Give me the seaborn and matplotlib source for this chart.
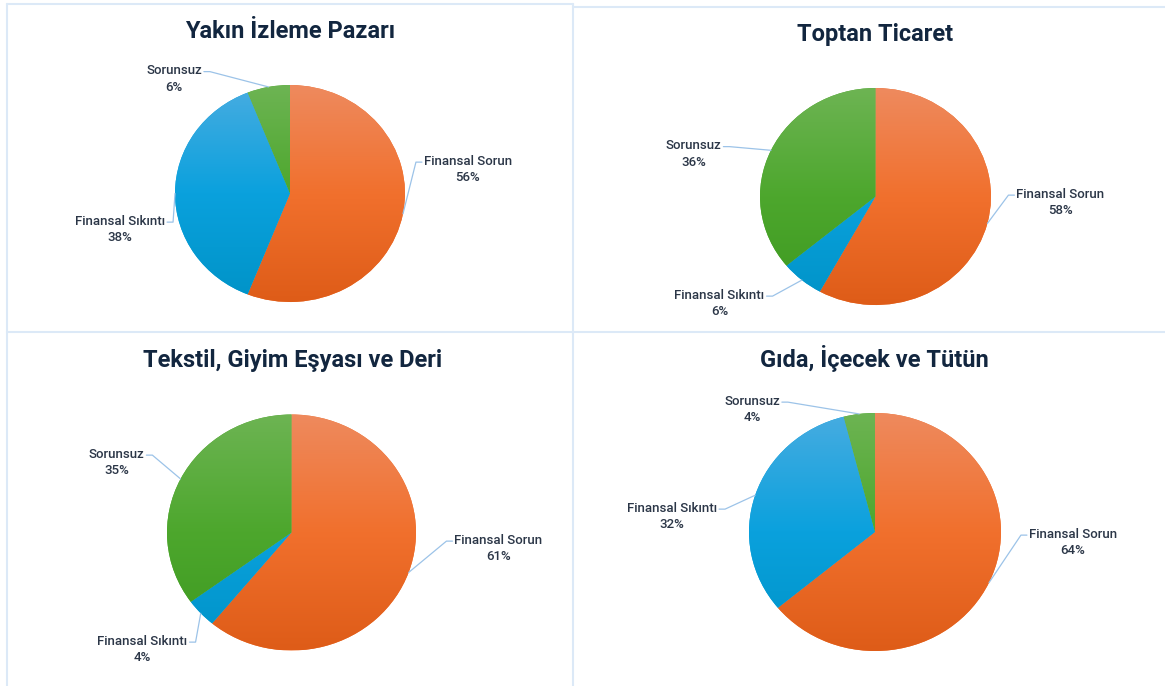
import numpy as np
import matplotlib
matplotlib.use("Agg")
import matplotlib.pyplot as plt
import seaborn as sns
from matplotlib.lines import Line2D

# ---- data -------------------------------------------------------------
categories = ["Finansal Sorun", "Finansal Sıkıntı", "Sorunsuz"]
titles = [
    "Yakın İzleme Pazarı",
    "Toptan Ticaret",
    "Tekstil, Giyim Eşyası ve Deri",
    "Gıda, İçecek ve Tütün",
]
yakin_izleme = [56, 38, 6]
toptan_ticaret = [58, 6, 36]
tekstil_giyim = [61, 4, 35]
gida_icecek = [64, 32, 4]
shares = [yakin_izleme, toptan_ticaret, tekstil_giyim, gida_icecek]

# ---- style ------------------------------------------------------------
W, H = 1165, 686
sns.set_theme(style="white")
plt.rcParams["font.family"] = ["Roboto", "DejaVu Sans"]

# vertical gradient per slice colour: top, middle, bottom
gradient_stops = {
    "Finansal Sorun": ["#EE8A5E", "#F1702D", "#DE5C18"],
    "Finansal Sıkıntı": ["#48ACE1", "#0AA1DD", "#0093C7"],
    "Sorunsuz": ["#6DB453", "#4DA72D", "#3D9920"],
}
cmaps = {k: sns.blend_palette(v, as_cmap=True) for k, v in gradient_stops.items()}

TITLE_COLOR = "#12263F"
LABEL_COLOR = "#2B3647"
LEADER_COLOR = "#9CC3E8"
BORDER_COLOR = "#DCE9F7"

# panel geometry in pixels (x from left, y from top); label offsets from pie centre
layouts = [
    dict(center=(290, 193.5), radii=(115, 108.5), title=(290, 32),
         labels=[(178, -24), (-170, 36), (-116, -114.5)]),
    dict(center=(875.5, 196.5), radii=(115.5, 108.5), title=(875, 35),
         labels=[(185, 6), (-156, 107), (-182, -42.5)]),
    dict(center=(291.5, 532.5), radii=(124.5, 118), title=(293, 361),
         labels=[(207, 16), (-149, 117), (-175, -70)]),
    dict(center=(875, 532), radii=(126, 119), title=(874, 359),
         labels=[(198, 10.5), (-203, -15.5), (-123, -122.5)]),
]

fig = plt.figure(figsize=(W / 100, H / 100), dpi=100)
fig.patch.set_facecolor("white")

# overlay axes in pixel coordinates for borders, titles, labels and leaders
ov = fig.add_axes([0, 0, 1, 1], zorder=5)
ov.set_xlim(0, W)
ov.set_ylim(H, 0)
ov.axis("off")

# panel frames
frame_lines = [
    ((7, 573), (4, 4)),
    ((573, W), (7, 7)),
    ((7, 7), (4, H)),
    ((573, 573), (4, H)),
    ((7, W), (332, 332)),
]
for xs, ys in frame_lines:
    ov.add_line(Line2D(xs, ys, color=BORDER_COLOR, lw=1.5, zorder=0))

m = 1.03
label_jobs = []
for title, values, lay in zip(titles, shares, layouts):
    cx, cy = lay["center"]
    rx, ry = lay["radii"]
    rect = [(cx - rx * m) / W, 1 - (cy + ry * m) / H, 2 * rx * m / W, 2 * ry * m / H]
    ax = fig.add_axes(rect, zorder=2)
    wedges, _ = ax.pie(values, startangle=90, counterclock=False, radius=1,
                       center=(0, 0), wedgeprops=dict(linewidth=0))
    grad = np.linspace(0, 1, 256).reshape(-1, 1)
    for cat, w in zip(categories, wedges):
        w.set_facecolor(gradient_stops[cat][1])
        im = ax.imshow(grad, cmap=cmaps[cat], extent=(-1, 1, -1, 1),
                       origin="upper", aspect="auto", interpolation="bilinear",
                       zorder=3)
        im.set_clip_path(w)
    ax.set_aspect("auto")
    ax.set_xlim(-m, m)
    ax.set_ylim(-m, m)
    ax.axis("off")

    ov.text(lay["title"][0], lay["title"][1], title, ha="center", va="center",
            fontsize=17, fontweight="bold", color=TITLE_COLOR)

    for cat, v, w, (dx, dy) in zip(categories, values, wedges, lay["labels"]):
        mid = np.deg2rad((w.theta1 + w.theta2) / 2)
        rim = (cx + rx * np.cos(mid), cy - ry * np.sin(mid))
        t = ov.text(cx + dx, cy + dy, f"{cat}\n{v}%", ha="center", va="center",
                    multialignment="center", fontsize=9.5, fontweight="medium",
                    color=LABEL_COLOR, linespacing=1.35)
        label_jobs.append((t, rim))

fig.canvas.draw()
renderer = fig.canvas.get_renderer()
for t, rim in label_jobs:
    bb = t.get_window_extent(renderer)
    x0, x1 = bb.x0, bb.x1
    ytop = H - bb.y1
    y_line = ytop + bb.height * 0.25
    tx = t.get_position()[0]
    if tx > rim[0]:
        edge, elbow = x0 - 2, x0 - 8
    else:
        edge, elbow = x1 + 2, x1 + 8
    ov.add_line(Line2D([edge, elbow, rim[0]], [y_line, y_line, rim[1]],
                       color=LEADER_COLOR, lw=0.9, zorder=1))

fig.savefig("out.png", dpi=100, facecolor="white")
